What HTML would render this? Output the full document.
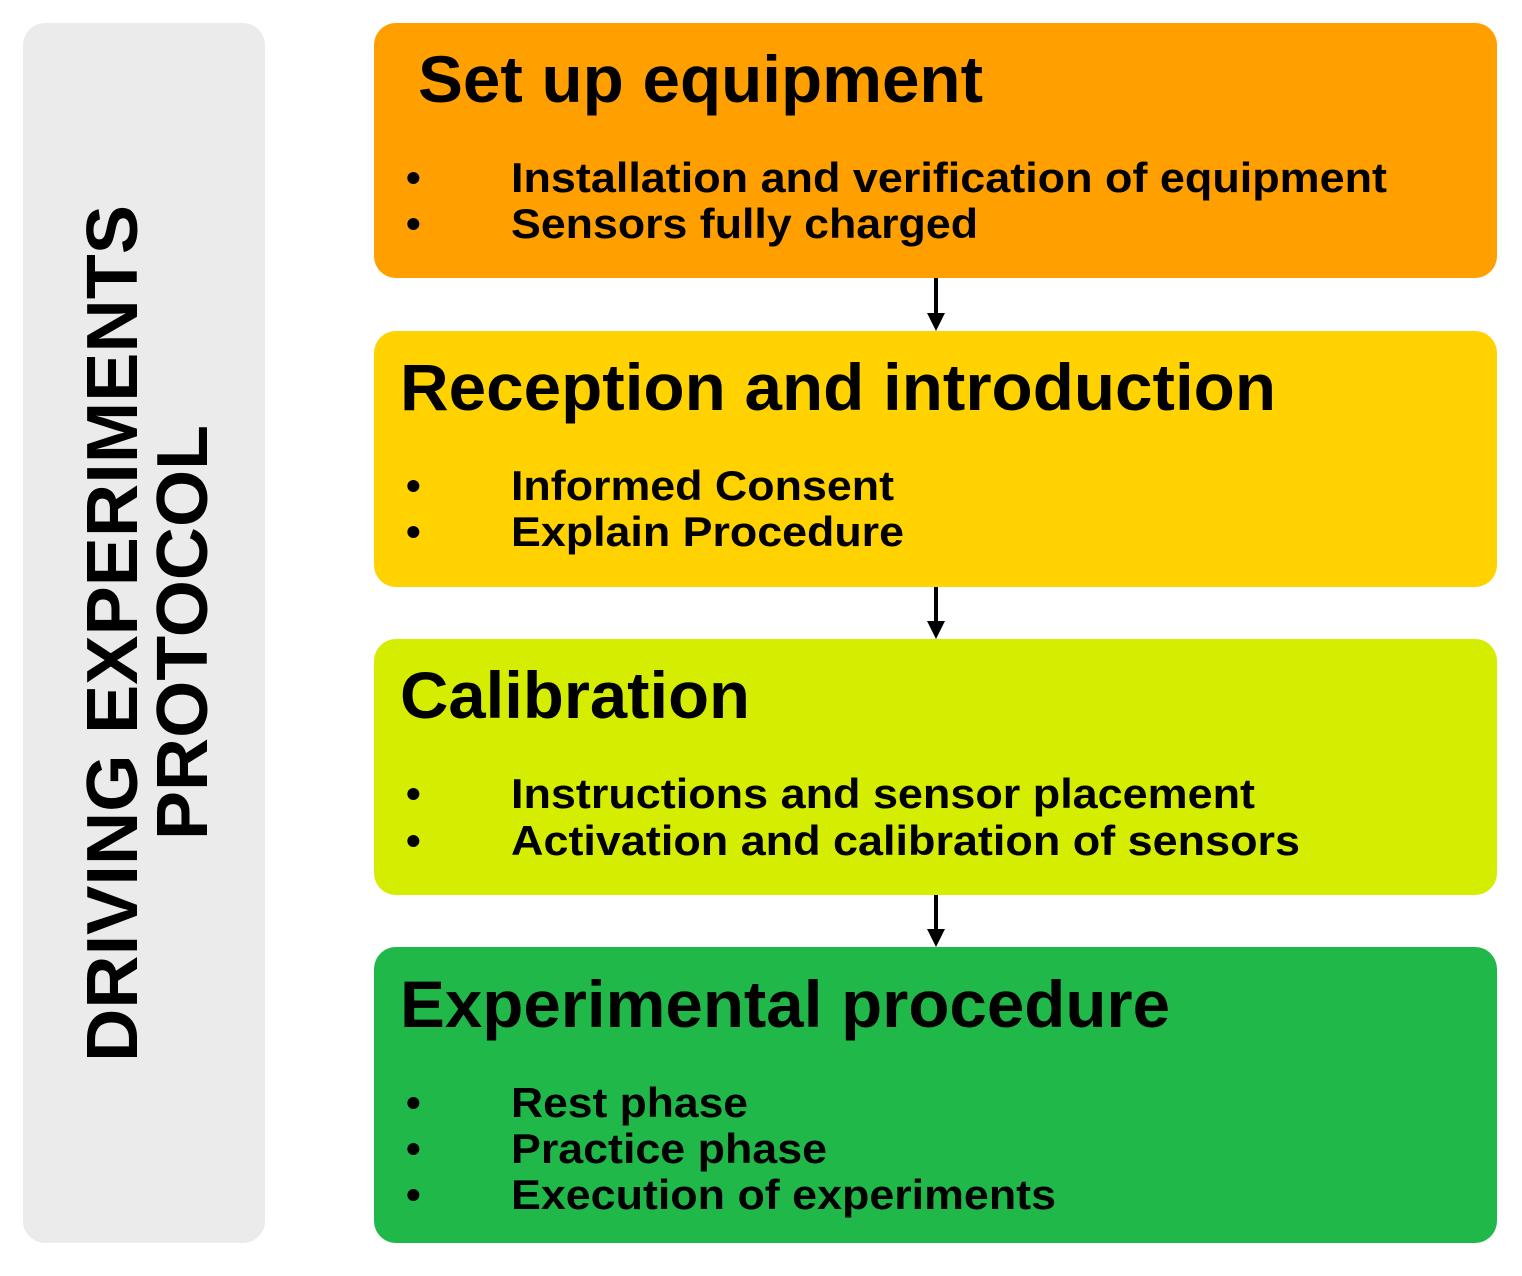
<!DOCTYPE html>
<html><head><meta charset="utf-8"><style>html,body{margin:0;padding:0;background:#fff}</style></head>
<body>
<svg width="1522" height="1271" viewBox="0 0 1522 1271" xmlns="http://www.w3.org/2000/svg" font-family="Liberation Sans, Arial, sans-serif" font-weight="bold">
<rect x="23" y="23" width="242" height="1220" rx="22" fill="#ebebeb"/>
<g font-weight="normal" font-size="72" fill="#000">
<text transform="translate(137,1062) rotate(-90)" textLength="857" lengthAdjust="spacingAndGlyphs" font-weight="bold">DRIVING EXPERIMENTS</text>
<text transform="translate(207,840) rotate(-90)" textLength="415" lengthAdjust="spacingAndGlyphs" font-weight="bold">PROTOCOL</text>
</g>
<rect x="374" y="23" width="1123" height="255" rx="22" fill="#ff9f00"/>
<rect x="374" y="331" width="1123" height="256" rx="22" fill="#ffd200"/>
<rect x="374" y="639" width="1123" height="256" rx="22" fill="#d4ed00"/>
<rect x="374" y="947" width="1123" height="296" rx="22" fill="#21b84a"/>
<g stroke="#000" stroke-width="4"><line x1="936" y1="278" x2="936" y2="318"/><line x1="936" y1="587" x2="936" y2="626"/><line x1="936" y1="895" x2="936" y2="934"/></g>
<g fill="#000"><polygon points="927,313 945,313 936,331"/><polygon points="927,621 945,621 936,639"/><polygon points="927,929 945,929 936,947"/></g>
<g font-size="66" fill="#000">
<text x="418" y="102" textLength="565" lengthAdjust="spacingAndGlyphs">Set up equipment</text>
<text x="400" y="410" textLength="876" lengthAdjust="spacingAndGlyphs">Reception and introduction</text>
<text x="400" y="718" textLength="350" lengthAdjust="spacingAndGlyphs">Calibration</text>
<text x="400" y="1027" textLength="770" lengthAdjust="spacingAndGlyphs">Experimental procedure</text>
</g>
<g font-size="42" fill="#000">
<text x="406" y="192">•</text><text x="511" y="192" textLength="876" lengthAdjust="spacingAndGlyphs">Installation and verification of equipment</text>
<text x="406" y="238">•</text><text x="511" y="238" textLength="467" lengthAdjust="spacingAndGlyphs">Sensors fully charged</text>
<text x="406" y="500">•</text><text x="511" y="500" textLength="383" lengthAdjust="spacingAndGlyphs">Informed Consent</text>
<text x="406" y="546">•</text><text x="511" y="546" textLength="393" lengthAdjust="spacingAndGlyphs">Explain Procedure</text>
<text x="406" y="808">•</text><text x="511" y="808" textLength="744" lengthAdjust="spacingAndGlyphs">Instructions and sensor placement</text>
<text x="406" y="855">•</text><text x="511" y="855" textLength="789" lengthAdjust="spacingAndGlyphs">Activation and calibration of sensors</text>
<text x="406" y="1117">•</text><text x="511" y="1117" textLength="237" lengthAdjust="spacingAndGlyphs">Rest phase</text>
<text x="406" y="1163">•</text><text x="511" y="1163" textLength="316" lengthAdjust="spacingAndGlyphs">Practice phase</text>
<text x="406" y="1209">•</text><text x="511" y="1209" textLength="545" lengthAdjust="spacingAndGlyphs">Execution of experiments</text>
</g>
</svg>
</body></html>
